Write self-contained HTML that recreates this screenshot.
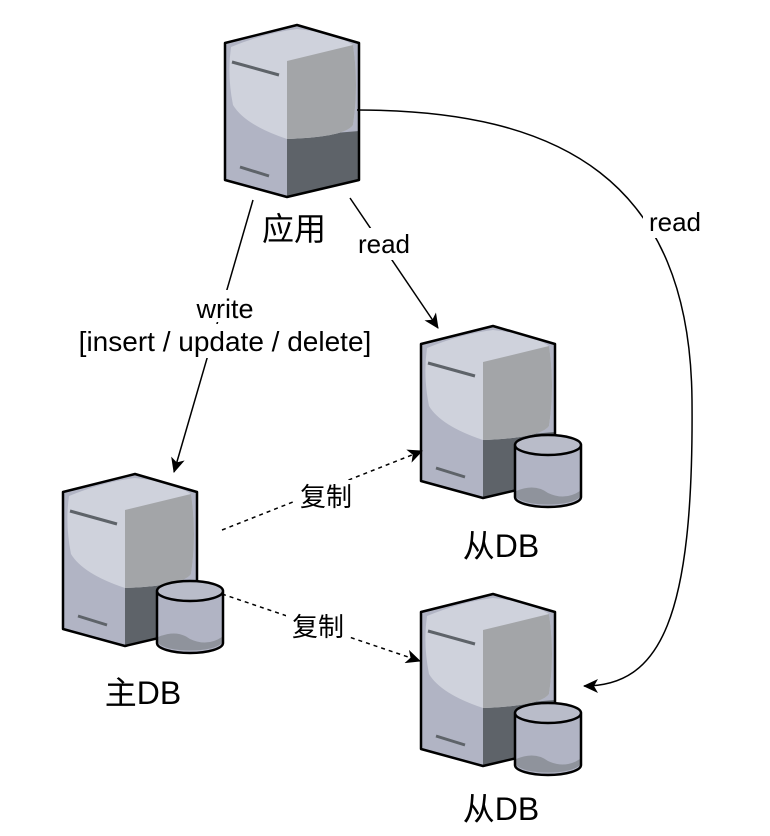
<!DOCTYPE html>
<html><head><meta charset="utf-8"><style>
body{margin:0;background:#fff;}
svg{display:block}
text{font-family:"Liberation Sans","Noto Sans CJK SC",sans-serif;fill:#000}
</style></head><body>
<svg width="770" height="836" viewBox="0 0 770 836" xmlns="http://www.w3.org/2000/svg">
<defs>
<g id="srv">
  <path d="M0,18 L72,0 L134,18 L134,155 L62,172 L0,155 Z" fill="#b1b4c4"/>
  <path d="M62,112 L134,106 L134,155 L62,172 Z" fill="#5e6369"/>
  <path d="M6,22 Q40,8 72,4 Q110,8 128,20 Q134,60 128,100 Q120,112 62,114 Q20,100 8,80 Q2,50 6,22 Z" fill="#cfd2dc"/>
  <path d="M62,36 L128,20 Q134,60 128,100 Q120,112 62,114 Z" fill="#a3a5a8"/>
  <path d="M0,18 L72,0 L134,18 L134,155 L62,172 L0,155 Z" fill="none" stroke="#000" stroke-width="2.5" stroke-linejoin="round"/>
  <line x1="7" y1="37" x2="54" y2="50" stroke="#5e6369" stroke-width="3"/>
  <line x1="15" y1="142" x2="44" y2="151" stroke="#5e6369" stroke-width="3"/>
</g>
<g id="cyl">
  <path d="M0,10 L0,62 A33,10 0 0 0 66,62 L66,10 Z" fill="#b1b4c4"/>
  <path d="M1,56 Q20,48 33,58 Q50,66 65,56 L65,62 A33,10 0 0 1 1,62 Z" fill="#8f939c"/>
  <ellipse cx="33" cy="10" rx="33" ry="10" fill="#b9bcc9"/>
  <path d="M0,10 L0,62 A33,10 0 0 0 66,62 L66,10 A33,10 0 0 0 0,10 A33,10 0 0 0 66,10" fill="none" stroke="#000" stroke-width="2.5"/>
</g>
<marker id="ar" markerWidth="16" markerHeight="14" refX="14" refY="7" orient="auto" markerUnits="userSpaceOnUse"><path d="M0,0 L15,7 L0,14 L4,7 Z" fill="#000"/></marker>
</defs>

<use href="#srv" x="225" y="25"/>
<use href="#srv" x="63" y="474"/>
<use href="#cyl" x="157" y="581"/>
<use href="#srv" x="421" y="326"/>
<use href="#cyl" x="515" y="435"/>
<use href="#srv" x="421" y="594"/>
<use href="#cyl" x="515" y="703"/>

<line x1="253" y1="200" x2="174" y2="472" stroke="#000" stroke-width="1.5" marker-end="url(#ar)"/>
<line x1="350" y1="198" x2="438" y2="328" stroke="#000" stroke-width="1.5" marker-end="url(#ar)"/>
<path d="M357,110 C560,110 690,180 692,400 C694,620 660,686 584,686" fill="none" stroke="#000" stroke-width="1.5" marker-end="url(#ar)"/>
<line x1="222" y1="530" x2="422" y2="451" stroke="#000" stroke-width="1.5" stroke-dasharray="4,4" marker-end="url(#ar)"/>
<line x1="222" y1="594" x2="420" y2="661" stroke="#000" stroke-width="1.5" stroke-dasharray="4,4" marker-end="url(#ar)"/>

<rect x="188" y="290" width="76" height="32" fill="#fff"/>
<rect x="72" y="324" width="306" height="34" fill="#fff"/>
<text x="225" y="318" font-size="27" text-anchor="middle">write</text>
<text x="225" y="351" font-size="28" text-anchor="middle">[insert / update / delete]</text>
<rect x="352" y="228" width="64" height="32" fill="#fff"/>
<text x="384" y="253" font-size="26" text-anchor="middle">read</text>
<rect x="643" y="206" width="64" height="32" fill="#fff"/>
<text x="675" y="231" font-size="26" text-anchor="middle">read</text>
<rect x="294" y="480" width="64" height="34" fill="#fff"/>
<text x="326" y="506" font-size="26" text-anchor="middle">复制</text>
<rect x="286" y="610" width="64" height="34" fill="#fff"/>
<text x="318" y="636" font-size="26" text-anchor="middle">复制</text>

<text x="294" y="240" font-size="32" text-anchor="middle">应用</text>
<text x="143" y="704" font-size="32" text-anchor="middle">主DB</text>
<text x="501" y="557" font-size="32" text-anchor="middle">从DB</text>
<text x="501" y="820" font-size="32" text-anchor="middle">从DB</text>
</svg>
</body></html>
